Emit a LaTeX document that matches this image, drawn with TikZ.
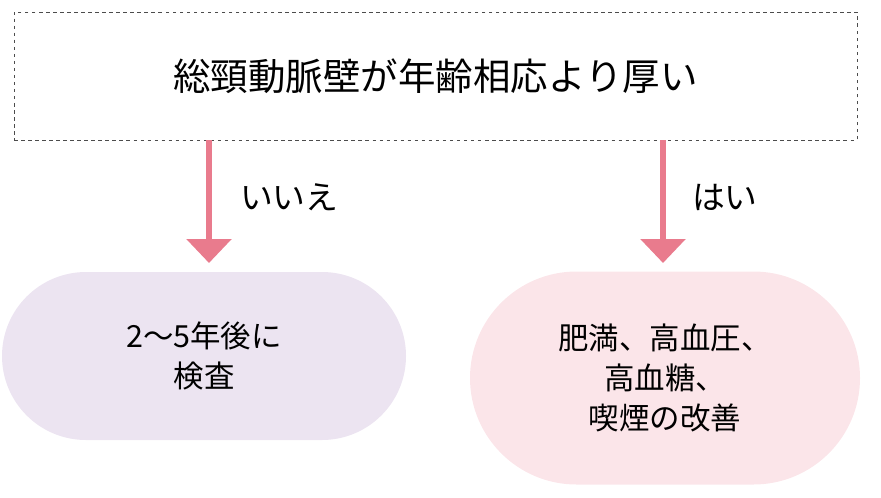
\documentclass[tikz,border=0pt]{standalone}
\usepackage{fontspec}
\setmainfont{Noto Sans CJK JP}
\usetikzlibrary{arrows.meta,positioning,shapes.misc}
\definecolor{arrowpink}{HTML}{E97B8D}
\definecolor{nopurple}{HTML}{ECE4F1}
\definecolor{yespink}{HTML}{FBE5E9}

\tikzset{
    pill/.style={rounded rectangle, align=center, font=\fontsize{26}{34}\selectfont, inner sep=0pt},
    flow/.style={-{Triangle[width=44*0.03cm, length=24*0.03cm]}, line width=5.5pt, draw=arrowpink},
    answer/.style={font=\fontsize{28}{34}\selectfont, anchor=west}
}

\begin{document}
\begin{tikzpicture}[x=0.03cm, y=-0.03cm]
    \useasboundingbox (0,0) rectangle (881,497);

    \node[draw=black!70, dashed, line width=0.6pt, minimum width=843*0.03cm, minimum height=128*0.03cm,
          font=\fontsize{32}{38}\selectfont] (q) at (435.5,76) {総頸動脈壁が年齢相応より厚い};

    \node[pill, fill=nopurple, minimum width=404*0.03cm, minimum height=168*0.03cm] (no) at (204,356) {2～5年後に\\検査};
    \node[pill, fill=yespink, minimum width=390*0.03cm, minimum height=213*0.03cm] (yes) at (665,378) {肥満、高血圧、\\高血糖、\\喫煙の改善};

    \coordinate (nof) at (209,140);
    \coordinate (not) at (209,263);
    \coordinate (yesf) at (663,140);
    \coordinate (yest) at (663,263);
    \draw[flow] (nof) -- (not);
    \draw[flow] (yesf) -- (yest);

    \node[answer] (nolabel) at (236,197) {いいえ};
    \node[answer] (yeslabel) at (688,197) {はい};
\end{tikzpicture}
\end{document}
